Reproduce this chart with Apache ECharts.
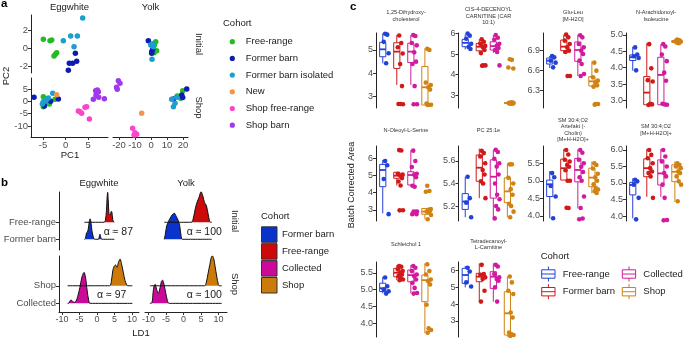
<!DOCTYPE html>
<html>
<head>
<meta charset="utf-8">
<script src="https://cdn.jsdelivr.net/npm/echarts@6/dist/echarts.min.js"></script>
<style>
  html, body { margin: 0; padding: 0; background: #fff; }
  #chart { width: 685px; height: 338px; }
</style>
</head>
<body>
<div id="chart"></div>
<script>
var FONT = '"Liberation Sans", Arial, Helvetica, sans-serif';

// ---------- panel a : PCA scores [cohort, PC1, PC2]
var cohortsA = ['Free-range', 'Former barn', 'Former barn isolated', 'New', 'Shop free-range', 'Shop barn'];
var colorsA = ['#22BB22', '#0C1CB2', '#1C9ECF', '#F5934A', '#FA45CC', '#A038EE'];

var pcaEggInitial = [
  ['Free-range', -4.93, 0.96], ['Free-range', -3.44, 0.81], ['Free-range', -3.07, 0.89],
  ['Free-range', -2.56, -0.89], ['Free-range', -2.26, -0.7], ['Free-range', -1.96, -0.52],
  ['Former barn isolated', -0.48, 0.81], ['Former barn isolated', 1.15, 1.33], ['Former barn isolated', 2.63, 1.33],
  ['Former barn isolated', 1.89, 0.15], ['Former barn isolated', 3.81, 3.33],
  ['Former barn', 2.19, -0.59], ['Former barn', 2.48, -1.48], ['Former barn', 1.59, -1.7],
  ['Former barn', 0.85, -1.7], ['Former barn', 0.63, -2.48]
];
var pcaEggShop = [
  ['Former barn', -7.0, 1.61], ['Free-range', -4.93, 1.88], ['Former barn isolated', -2.85, 3.23], ['New', -1.96, 2.69],
  ['Former barn', -1.59, 0.93], ['Free-range', -2.33, 0.8], ['Former barn isolated', -4.93, -0.15], ['Former barn', -3.3, 0.0],
  ['Former barn isolated', -3.81, 1.34], ['Free-range', -4.04, -0.82], ['Former barn', -4.7, -1.91], ['Free-range', -4.93, -2.18],
  ['Former barn isolated', -5.15, -1.09], ['Free-range', -3.59, -1.09], ['Former barn isolated', -4.3, 0.4],
  ['Shop barn', 6.7, 4.31], ['Shop barn', 7.3, 3.9], ['Shop barn', 6.78, 2.55], ['Shop barn', 7.37, 1.61],
  ['Shop barn', 6.19, 0.8], ['Shop barn', 8.63, 1.07], ['Shop barn', 7.07, 4.55],
  ['Shop free-range', 2.85, -3.93], ['Shop free-range', 3.59, -4.88], ['Shop free-range', 4.33, -2.44],
  ['Shop free-range', 4.7, -2.18], ['Shop free-range', 5.3, -7.17], ['Shop free-range', 3.22, -4.2]
];
var pcaYolkInitial = [
  ['Former barn', -1.67, 0.81], ['Former barn isolated', -0.2, 0.33], ['Former barn', 0.42, -0.41], ['Former barn', 0.42, -0.59],
  ['Former barn isolated', 0.63, -1.26], ['Free-range', 2.92, 0.7], ['Free-range', 2.08, 0.33], ['Former barn isolated', 1.46, 0.15],
  ['Free-range', 3.54, -0.3], ['Free-range', 1.88, -0.52], ['Former barn', 1.04, -0.15], ['Former barn isolated', 1.04, 0.48]
];
var pcaYolkShop = [
  ['Shop barn', -20.4, 8.36], ['Shop barn', -19.4, 7.28], ['Shop barn', -21.5, 5.66], ['Shop barn', -21.1, 4.85],
  ['Shop free-range', -11.5, -10.96], ['Shop free-range', -10.0, -12.7], ['Shop free-range', -8.96, -13.39], ['Shop free-range', -10.6, -13.66],
  ['New', -5.83, -4.88],
  ['Former barn', 22.3, 4.99], ['Free-range', 19.8, 4.31], ['Former barn', 19.2, 2.55], ['Free-range', 17.7, 1.88],
  ['Former barn isolated', 16.0, 1.61], ['Former barn', 14.0, 0.93], ['Former barn isolated', 12.9, 0.8],
  ['Former barn isolated', 15.0, -0.82], ['Former barn isolated', 14.0, -2.18], ['Free-range', 16.4, 2.2],
  ['Free-range', 18.5, 1.2], ['Former barn', 19.8, 1.5]
];
var ticksPC1Egg = ['-5', '0', '5'];
var ticksPC1Yolk = ['-20', '-10', '0', '10', '20'];
var ticksPC2Initial = ['-2', '0', '2'];
var ticksPC2Shop = ['-10', '-5', '0', '5'];

// ---------- panel b : LD1 density ridges [LD1, height]
var ridgeRowsInitial = ['Former barn', 'Free-range'];
var ridgeRowsShop = ['Collected', 'Shop'];
var colorsB = { 'Former barn': '#0A33CC', 'Free-range': '#CC0A0A', 'Collected': '#CC0A99', 'Shop': '#CC7A0A' };
var ldEggFree = [[-3.6, 0], [2.0, 0], [2.4, 0.12], [2.7, 0.7], [2.9, 1.5], [3.05, 1.76], [3.2, 1.35], [3.4, 0.55], [3.6, 0.42],
  [3.85, 0.5], [4.1, 0.64], [4.25, 0.6], [4.5, 0.15], [4.75, 0.02], [4.95, 0]];
var ldEggFormer = [[-3.6, 0], [-3.3, 0.05], [-3.0, 0.38], [-2.75, 0.42], [-2.5, 0.6], [-2.2, 1.05], [-1.95, 1.2], [-1.7, 0.95],
  [-1.45, 0.5], [-1.2, 0.25], [-0.9, 0.04], [-0.5, 0], [0.4, 0], [0.6, 0.12], [0.85, 0.3], [1.1, 0.1], [1.4, 0], [4.95, 0]];
var ldYolkFree = [[-5.5, 0], [2.2, 0], [2.8, 0.25], [3.4, 0.85], [3.9, 1.2], [4.4, 1.45], [5.0, 1.8], [5.5, 1.55], [6.0, 1.15],
  [6.5, 1.0], [7.0, 0.5], [7.4, 0.1], [7.7, 0], [8.05, 0]];
var ldYolkFormer = [[-5.5, 0], [-5.2, 0.3], [-4.8, 0.8], [-4.3, 1.05], [-3.8, 1.25], [-3.2, 1.45], [-2.6, 1.53], [-2.1, 1.35],
  [-1.5, 1.1], [-1.1, 0.8], [-0.7, 0.2], [-0.35, 0], [8.05, 0]];
var ldEggShop = [[-8.4, 0], [3.6, 0], [4.1, 0.25], [4.5, 0.85], [4.9, 1.1], [5.3, 1.18], [5.7, 1.05], [6.1, 1.3], [6.6, 1.52],
  [7.0, 1.25], [7.5, 0.77], [8.0, 0.3], [8.5, 0.05], [8.8, 0], [10.1, 0]];
var ldEggCollected = [[-8.4, 0], [-8.0, 0.02], [-7.7, 0.15], [-7.4, 0.19], [-7.0, 0.12], [-6.5, 0.06], [-6.0, 0.12], [-5.5, 0.4],
  [-4.9, 0.9], [-4.3, 1.5], [-3.7, 1.76], [-3.3, 1.5], [-2.8, 0.7], [-2.4, 0.2], [-2.0, 0], [10.1, 0]];
var ldYolkShop = [[-9.6, 0], [6.0, 0], [6.5, 0.2], [7.0, 0.7], [7.5, 1.2], [7.9, 1.6], [8.2, 1.7], [8.6, 1.55], [9.0, 1.1],
  [9.5, 0.5], [9.9, 0.1], [10.2, 0], [10.9, 0]];
var ldYolkCollected = [[-9.6, 0], [-9.0, 0.05], [-8.7, 0.6], [-8.4, 1.0], [-8.1, 1.08], [-7.7, 0.8], [-7.2, 0.57], [-6.7, 0.9],
  [-6.3, 1.25], [-6.0, 1.32], [-5.6, 1.1], [-5.1, 0.6], [-4.6, 0.15], [-4.1, 0], [10.9, 0]];
var alphaLabels = ['\u03B1 \u2248 87', '\u03B1 \u2248 100', '\u03B1 \u2248 97', '\u03B1 \u2248 100'];
var ticksLD1 = ['-10', '-5', '0', '5', '10'];

// ---------- panel c : boxplots [min, q1, median, q3, max] and points
var cohortsC = ['Free-range', 'Former barn', 'Collected', 'Shop'];
var colorsC = ['#2242D6', '#D01A1A', '#D01C9C', '#D08212'];
var metabolites = ['1,25-Dihydroxy-\ncholesterol', 'CIS-4-DECENOYL\nCARNITINE (CAR\n10:1)', 'Glu-Leu\n[M-H2O]',
  'N-Arachidonoyl-\nIsoleucine', 'N-Oleoyl-L-Serine', 'PC 25:1e', 'SM 30:4;O2\nArtefakt (-\nCholin)\n[M+H-H2O]+',
  'SM 30:4;O2\n[M+H-H2O]+', 'Schleichol 1', 'Tetradecanoyl-\nL-Carnitine'];
var yMinC = [2.51, 2.37, 6.04, 2.77, 2.35, 5.067, 3.85, 3.85, 3.59, 2.03];
var yMaxC = [5.73, 6.03, 7.165, 5.06, 6.72, 5.733, 5.995, 6.12, 5.82, 6.52];
var ticksC = [['3', '4', '5'], ['3', '4', '5', '6'], ['6.3', '6.6', '6.9'], ['3.0', '3.5', '4.0', '4.5', '5.0'],
  ['3', '4', '5', '6'], ['5.2', '5.4', '5.6'], ['4.0', '4.5', '5.0', '5.5'], ['4.0', '4.5', '5.0', '5.5', '6.0'],
  ['4.0', '4.5', '5.0', '5.5'], ['3', '4', '5', '6']];

var boxFreeRange = [[4.43, 4.71, 5.03, 5.33, 5.71], [5.23, 5.36, 5.55, 5.72, 5.96], [6.64, 6.70, 6.75, 6.79, 6.82],
  [3.91, 4.22, 4.32, 4.39, 4.64], [2.8, 4.35, 5.32, 5.65, 5.9], [5.1, 5.17, 5.24, 5.31, 5.46], [3.93, 4.55, 4.9, 5.02, 5.28],
  [3.93, 4.64, 4.94, 5.02, 5.14], [4.89, 4.94, 5.04, 5.19, 5.38], [5.0, 5.24, 5.74, 6.14, 6.28]];
var boxFormerBarn = [[3.5, 4.21, 4.93, 5.31, 5.64], [5.03, 5.16, 5.36, 5.52, 5.72], [6.86, 6.90, 6.96, 7.06, 7.14],
  [2.87, 2.87, 3.24, 3.73, 4.75], [4.42, 4.84, 4.99, 5.19, 5.19], [5.27, 5.42, 5.54, 5.653, 5.71], [5.02, 5.02, 5.36, 5.62, 5.91],
  [4.58, 5.19, 5.45, 5.73, 6.03], [5.28, 5.38, 5.5, 5.63, 5.73], [4.14, 5.34, 5.64, 5.84, 6.44]];
var boxCollected = [[3.5, 4.46, 4.93, 5.29, 5.64], [5.06, 5.2, 5.39, 5.6, 5.93], [6.52, 6.74, 6.91, 7.03, 7.14],
  [2.87, 2.87, 3.78, 4.32, 4.72], [4.35, 4.45, 5.03, 5.22, 6.48], [5.076, 5.27, 5.46, 5.61, 5.70], [4.21, 4.97, 5.31, 5.64, 5.9],
  [4.58, 4.94, 5.29, 5.7, 6.03], [4.89, 5.23, 5.43, 5.58, 5.73], [4.14, 4.94, 5.64, 5.94, 6.44]];
var boxShop = [[2.64, 2.64, 3.4, 4.29, 5.07], [2.58, 2.6, 2.61, 2.63, 2.64], [6.35, 6.37, 6.44, 6.51, 6.74],
  [4.74, 4.77, 4.8, 4.83, 4.86], [2.45, 2.74, 2.9, 3.08, 3.1], [5.10, 5.23, 5.33, 5.45, 5.58], [4.64, 4.83, 5.09, 5.36, 5.55],
  [4.43, 5.04, 5.34, 5.55, 5.65], [3.7, 4.64, 5.28, 5.43, 5.78], [2.05, 2.15, 3.45, 4.74, 5.64]];

var ptsFreeRange = [[5.70, 5.66, 5.35, 4.86, 4.43], [6.0, 5.9, 5.75, 5.5, 5.35, 5.25], [6.82, 6.80, 6.75, 6.72, 6.65],
  [4.62, 4.40, 4.35, 4.30, 3.92], [5.85, 5.6, 4.8, 2.75], [5.46, 5.27, 5.23, 5.1], [5.22, 5.1, 4.85, 4.55, 3.93],
  [5.1, 5.05, 4.95, 4.55, 3.9], [5.36, 5.1, 5.0, 4.95, 4.88], [6.18, 5.95, 5.3, 5.05]];
var ptsFormerBarn = [[5.62, 5.3, 5.12, 4.85, 4.4, 3.45, 2.68, 2.68, 2.67], [5.72, 5.6, 5.5, 5.4, 5.35, 5.2, 5.05, 4.45, 4.45, 4.43],
  [7.14, 7.10, 7.05, 7.0, 6.95, 6.9, 6.88, 6.52, 6.52], [4.72, 3.98, 3.62, 3.58, 2.9, 2.88, 2.86],
  [6.48, 6.46, 5.1, 5.05, 5.0, 4.85, 4.65, 4.42, 2.98, 2.97], [5.69, 5.67, 5.64, 5.58, 5.52, 5.48, 5.42, 5.40, 5.27],
  [5.88, 5.75, 5.6, 5.55, 5.45, 5.4, 5.3, 5.0, 5.0, 4.23, 4.22], [6.0, 5.85, 5.75, 5.6, 5.45, 5.35, 5.3, 5.2, 4.55],
  [5.7, 5.68, 5.6, 5.55, 5.5, 5.45, 5.4, 5.35, 5.3, 5.28], [6.35, 5.8, 5.75, 5.6, 5.5, 4.8, 4.15]];
var ptsCollected = [[5.64, 5.6, 5.3, 5.2, 4.9, 4.5, 4.4, 3.45, 2.67, 2.67], [5.93, 5.8, 5.7, 5.5, 5.4, 5.3, 5.2, 5.1, 4.45],
  [7.13, 7.1, 7.0, 6.95, 6.9, 6.85, 6.75, 6.7, 6.55, 6.52], [4.72, 4.65, 4.4, 4.2, 3.85, 3.6, 2.9, 2.88, 2.87],
  [6.45, 5.85, 5.5, 5.1, 5.05, 4.9, 4.4, 4.35, 2.9, 2.9, 2.88, 2.75, 2.75],
  [5.70, 5.68, 5.62, 5.58, 5.55, 5.48, 5.40, 5.3, 5.26, 5.2, 5.17, 5.09],
  [5.88, 5.8, 5.6, 5.5, 5.4, 5.25, 5.1, 5.0, 4.55, 4.22, 3.92, 3.9], [6.0, 5.8, 5.65, 5.5, 5.3, 5.2, 4.95, 4.55, 3.88, 3.87],
  [5.7, 5.65, 5.55, 5.45, 5.4, 5.3, 5.2, 5.05, 4.9, 4.88], [6.35, 6.25, 5.8, 5.6, 5.5, 5.4, 5.0, 4.15]];
var ptsShop = [[5.05, 5.0, 3.6, 3.5, 3.4, 3.3, 2.7, 2.65, 2.65, 2.64],
  [4.75, 4.72, 4.35, 4.3, 2.64, 2.63, 2.62, 2.62, 2.61, 2.6, 2.6, 2.6, 2.59, 2.58],
  [6.72, 6.6, 6.5, 6.45, 6.42, 6.38, 6.36, 6.1, 6.1, 6.09], [4.86, 4.84, 4.82, 4.8, 4.8, 4.78, 4.77, 4.75],
  [4.4, 4.1, 4.05, 3.05, 3.0, 2.95, 2.9, 2.85, 2.7, 2.45], [5.57, 5.57, 5.45, 5.4, 5.35, 5.3, 5.22, 5.2, 5.15, 5.1],
  [5.5, 5.45, 5.35, 5.2, 5.1, 5.0, 4.9, 4.8, 4.75, 4.7, 4.65], [5.6, 5.55, 5.5, 5.45, 5.35, 5.3, 5.2, 5.05, 4.95, 4.45],
  [5.75, 5.55, 5.45, 5.3, 5.25, 5.15, 4.55, 3.85, 3.8, 3.72], [5.65, 5.3, 4.8, 4.6, 3.5, 3.2, 2.3, 2.2, 2.15, 2.1]];

// horizontal spread of the jittered points (layout only)
var jitterC = [0.05, 0.2, -0.05, 0.3, 0.12, 0.25, 0.0, 0.15, 0.32, 0.08, 0.22, -0.02, 0.28, 0.1];

// ---------- building
var chart = echarts.init(document.getElementById('chart'));
var grids = [], xAxes = [], yAxes = [], series = [], graphics = [];

function addGrid(left, top, width, height) {
  grids.push({ left: left, top: top, width: width, height: height, outerBoundsMode: 'none', containLabel: false });
  return grids.length - 1;
}

function axis(gi, min, max, vals, labels, opt) {
  opt = opt || {};
  return {
    type: 'value', gridIndex: gi, min: min, max: max, show: opt.show !== false,
    axisLine: { show: opt.line !== false, onZero: false, lineStyle: { color: '#222', width: 1 } },
    axisTick: { show: vals.length > 0, length: 3, customValues: vals, lineStyle: { color: '#333', width: 1 } },
    axisLabel: {
      show: vals.length > 0, customValues: vals, margin: opt.margin || 3, fontSize: opt.fontSize || 9,
      color: '#4d4d4d', fontFamily: FONT,
      formatter: function (v) {
        var k = 0;
        vals.forEach(function (u, i) { if (Math.abs(u - v) < Math.abs(vals[k] - v)) k = i; });
        return labels[k];
      }
    },
    splitLine: { show: false }
  };
}
function nums(a) { return a.map(Number); }

function text(x, y, str, size, o) {
  o = o || {};
  return {
    type: 'text', x: x, y: y, rotation: o.rotation || 0, silent: true,
    style: {
      text: str, fontSize: size, fontFamily: FONT, fontWeight: o.weight || 'normal', fill: o.color || '#1a1a1a',
      align: o.align || 'center', verticalAlign: o.valign || 'middle',
      textAlign: o.align || 'center', textVerticalAlign: o.valign || 'middle', lineHeight: o.lineHeight
    }
  };
}

// ----- panel a
function pcaPanel(rows, rect, xr, xt, yr, yt, showX, showY) {
  var gi = addGrid(rect[0], rect[1], rect[2], rect[3]);
  xAxes.push(axis(gi, xr[0], xr[1], showX ? nums(xt) : [], xt, { show: showX, fontSize: 9.5 }));
  yAxes.push(axis(gi, yr[0], yr[1], showY ? nums(yt) : [], yt, { show: showY, fontSize: 9.5 }));
  cohortsA.forEach(function (c, k) {
    var d = rows.filter(function (r) { return r[0] === c; }).map(function (r) { return [r[1], r[2]]; });
    if (d.length) series.push({ type: 'scatter', xAxisIndex: gi, yAxisIndex: gi, data: d, symbolSize: 5.5,
      itemStyle: { color: colorsA[k], opacity: 1 }, silent: true });
  });
}
pcaPanel(pcaEggInitial, [31, 15, 77, 58], [-7.67, 9.44], ticksPC1Egg, [-2.78, 3.67], ticksPC2Initial, false, true);
pcaPanel(pcaYolkInitial, [113, 15, 75, 58], [-23.75, 23.1], ticksPC1Yolk, [-2.78, 3.67], ticksPC2Initial, false, false);
pcaPanel(pcaEggShop, [31, 78, 77, 59], [-7.67, 9.44], ticksPC1Egg, [-14.47, 9.45], ticksPC2Shop, true, true);
pcaPanel(pcaYolkShop, [113, 78, 75, 59], [-23.75, 23.1], ticksPC1Yolk, [-14.47, 9.45], ticksPC2Shop, true, false);

graphics.push(text(1, 4, 'a', 11.5, { align: 'left', weight: 'bold', color: '#000' }));
graphics.push(text(69.5, 7, 'Eggwhite', 9.5));
graphics.push(text(150.5, 7, 'Yolk', 9.5));
graphics.push(text(198.5, 44, 'Initial', 9.5, { rotation: -Math.PI / 2 }));
graphics.push(text(198.5, 107.5, 'Shop', 9.5, { rotation: -Math.PI / 2 }));
graphics.push(text(6, 76, 'PC2', 9.5, { rotation: Math.PI / 2 }));
graphics.push(text(70, 155, 'PC1', 9.5));
graphics.push(text(223, 23.5, 'Cohort', 9.5, { align: 'left' }));
cohortsA.forEach(function (c, k) {
  var y = 41.7 + k * 16.7;
  graphics.push({ type: 'circle', shape: { cx: 232.3, cy: y, r: 2.6 }, style: { fill: colorsA[k] }, silent: true });
  graphics.push(text(245.7, y, c, 9.5, { align: 'left' }));
});

// ----- panel b
function ridgePanel(rect, xr, yr, showX, rows, curves) {
  var gi = addGrid(rect[0], rect[1], rect[2], rect[3]);
  xAxes.push(axis(gi, xr[0], xr[1], showX ? nums(ticksLD1) : [], ticksLD1, { show: showX, fontSize: 9 }));
  yAxes.push(axis(gi, yr[0], yr[1], rect[0] < 100 ? [0, 1] : [], rows, { show: rect[0] < 100, fontSize: 9.5 }));
  // upper ridge first, lower one over it
  [1, 0].forEach(function (base) {
    series.push({
      type: 'line', xAxisIndex: gi, yAxisIndex: gi, smooth: 0.3, symbol: 'none', silent: true,
      data: curves[base].map(function (p) { return [p[0], base + p[1]]; }),
      lineStyle: { color: '#111', width: 1 },
      areaStyle: { color: colorsB[rows[base]], opacity: 1, origin: base }
    });
  });
}
ridgePanel([59, 192, 80, 58], [-10.86, 12], [-0.63, 2.78], false, ridgeRowsInitial, [ldEggFormer, ldEggFree]);
ridgePanel([145, 192, 82, 58], [-11, 12.4], [-0.63, 2.78], false, ridgeRowsInitial, [ldYolkFormer, ldYolkFree]);
ridgePanel([59, 256, 80, 56], [-10.86, 12], [-0.49, 2.69], true, ridgeRowsShop, [ldEggCollected, ldEggShop]);
ridgePanel([145, 256, 82, 56], [-11, 12.4], [-0.49, 2.69], true, ridgeRowsShop, [ldYolkCollected, ldYolkShop]);

graphics.push(text(1, 183, 'b', 11.5, { align: 'left', weight: 'bold', color: '#000' }));
graphics.push(text(99, 183.5, 'Eggwhite', 9.5));
graphics.push(text(186, 183.5, 'Yolk', 9.5));
graphics.push(text(235, 221, 'Initial', 9.5, { rotation: -Math.PI / 2 }));
graphics.push(text(235, 284, 'Shop', 9.5, { rotation: -Math.PI / 2 }));
graphics.push(text(118.3, 231.7, alphaLabels[0], 10.5));
graphics.push(text(204.3, 231.7, alphaLabels[1], 10.5));
graphics.push(text(111.7, 295, alphaLabels[2], 10.5));
graphics.push(text(204.3, 295, alphaLabels[3], 10.5));
graphics.push(text(141, 333, 'LD1', 9.5));
graphics.push(text(261, 216.7, 'Cohort', 9.5, { align: 'left' }));
['Former barn', 'Free-range', 'Collected', 'Shop'].forEach(function (c, k) {
  var top = 226.8 + k * 16.9;
  graphics.push({ type: 'rect', shape: { x: 261.5, y: top, width: 15.5, height: 15.5 },
    style: { fill: colorsB[c], stroke: '#333', lineWidth: 1 }, silent: true });
  graphics.push(text(282, top + 7.8, c, 9.5, { align: 'left' }));
});

// ----- panel c
function renderBox(params, api) {
  var x = api.value(0);
  var col = colorsC[api.value(6)];
  var hw = api.size([0.22, 0])[0];
  var pMin = api.coord([x, api.value(1)]), pQ1 = api.coord([x, api.value(2)]), pMed = api.coord([x, api.value(3)]),
      pQ3 = api.coord([x, api.value(4)]), pMax = api.coord([x, api.value(5)]);
  return {
    type: 'group', children: [
      { type: 'line', shape: { x1: pMin[0], y1: pMin[1], x2: pQ1[0], y2: pQ1[1] }, style: { stroke: col, lineWidth: 1 } },
      { type: 'line', shape: { x1: pQ3[0], y1: pQ3[1], x2: pMax[0], y2: pMax[1] }, style: { stroke: col, lineWidth: 1 } },
      { type: 'rect', shape: { x: pQ3[0] - hw, y: pQ3[1], width: 2 * hw, height: pQ1[1] - pQ3[1] },
        style: { fill: 'none', stroke: col, lineWidth: 1 } },
      { type: 'line', shape: { x1: pMed[0] - hw, y1: pMed[1], x2: pMed[0] + hw, y2: pMed[1] }, style: { stroke: col, lineWidth: 1.8 } }
    ]
  };
}
var colLeftC = [376, 458.5, 543, 626];
var rowTopC = [33, 146, 262];
var titleYC = [16, 130, 244.5];
var boxSets = [boxFreeRange, boxFormerBarn, boxCollected, boxShop];
var ptSets = [ptsFreeRange, ptsFormerBarn, ptsCollected, ptsShop];
metabolites.forEach(function (name, m) {
  var col = m % 4, row = Math.floor(m / 4);
  var gi = addGrid(colLeftC[col], rowTopC[row], 59, 75);
  xAxes.push(axis(gi, 0.4, 4.6, [], [], { show: false }));
  yAxes.push(axis(gi, yMinC[m], yMaxC[m], nums(ticksC[m]), ticksC[m], { fontSize: 9 }));
  series.push({
    type: 'custom', xAxisIndex: gi, yAxisIndex: gi, renderItem: renderBox, silent: true, z: 2,
    encode: { x: 0, y: [1, 2, 3, 4, 5] },
    data: boxSets.map(function (b, k) { return [k + 1 - 0.12].concat(b[m], [k]); })
  });
  ptSets.forEach(function (p, k) {
    series.push({
      type: 'scatter', xAxisIndex: gi, yAxisIndex: gi, symbolSize: 4.6, silent: true, z: 3,
      itemStyle: { color: colorsC[k], opacity: 1 },
      data: p[m].map(function (v, j) { return [k + 1 + jitterC[j % jitterC.length], v]; })
    });
  });
  graphics.push(text(colLeftC[col] + 30, titleYC[row], name, 5.6, { lineHeight: 6.2, color: '#333' }));
});

graphics.push(text(350, 6.5, 'c', 11.5, { align: 'left', weight: 'bold', color: '#000' }));
graphics.push(text(352, 185, 'Batch Corrected Area', 9, { rotation: Math.PI / 2 }));
graphics.push(text(540.7, 256.7, 'Cohort', 9.5, { align: 'left' }));
cohortsC.forEach(function (c, k) {
  var ix = k < 2 ? 541.7 : 622.3;
  var cy = k % 2 === 0 ? 274 : 291.7;
  var cx = ix + 6.7;
  graphics.push({ type: 'rect', shape: { x: ix, y: cy - 4.2, width: 13.3, height: 8.4 },
    style: { fill: 'none', stroke: colorsC[k], lineWidth: 1 }, silent: true });
  graphics.push({ type: 'line', shape: { x1: ix, y1: cy, x2: ix + 13.3, y2: cy }, style: { stroke: colorsC[k], lineWidth: 1 }, silent: true });
  graphics.push({ type: 'line', shape: { x1: cx, y1: cy - 7.5, x2: cx, y2: cy - 4.2 }, style: { stroke: colorsC[k], lineWidth: 1 }, silent: true });
  graphics.push({ type: 'line', shape: { x1: cx, y1: cy + 4.2, x2: cx, y2: cy + 7.5 }, style: { stroke: colorsC[k], lineWidth: 1 }, silent: true });
  graphics.push(text(ix + 21, cy, c, 9.5, { align: 'left' }));
});

chart.setOption({
  animation: false,
  backgroundColor: '#fff',
  textStyle: { fontFamily: FONT },
  grid: grids,
  xAxis: xAxes,
  yAxis: yAxes,
  series: series,
  graphic: { elements: graphics }
});
</script>
</body>
</html>
